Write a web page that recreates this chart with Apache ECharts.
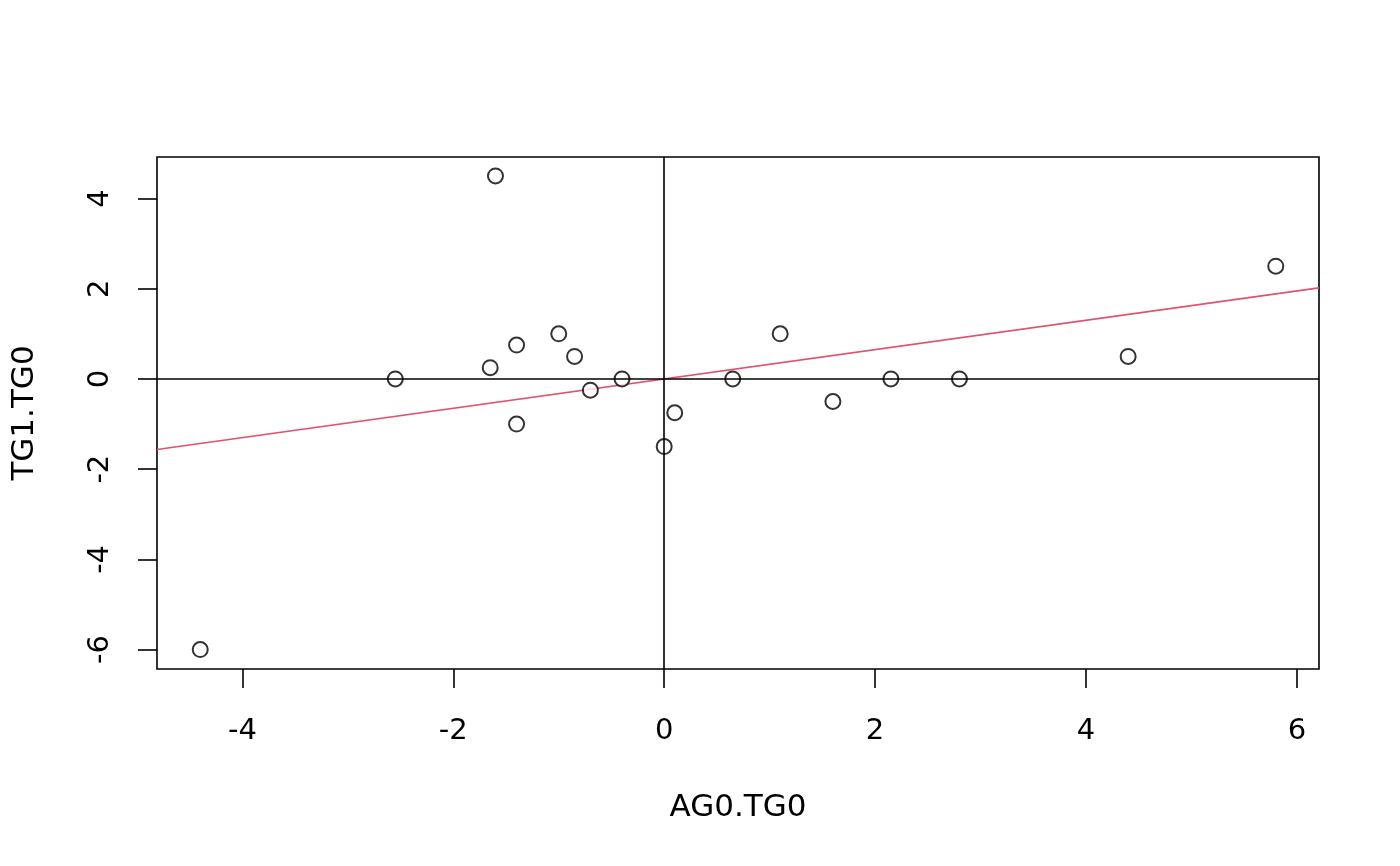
<!DOCTYPE html>
<html>
<head>
<meta charset="utf-8">
<script src="https://cdn.jsdelivr.net/npm/echarts@6/dist/echarts.min.js"></script>
<style>
html,body{margin:0;padding:0;background:#fff;}
#chart{width:1400px;height:866px;}
</style>
</head>
<body>
<div id="chart"></div>
<script>
const xValues = [-4.4, -2.55, -1.65, -1.6, -1.4, -1.4, -1.0, -0.85, -0.7, -0.4, 0.0, 0.1, 0.65, 1.1, 1.6, 2.15, 2.8, 4.4, 5.8];
const yValues = [-6.0, 0.0, 0.25, 4.5, 0.75, -1.0, 1.0, 0.5, -0.25, 0.0, -1.5, -0.75, 0.0, 1.0, -0.5, 0.0, 0.0, 0.5, 2.5];
const xTicks = [-4, -2, 0, 2, 4, 6];
const yTicks = [-6, -4, -2, 0, 2, 4];
const xLabel = 'AG0.TG0';
const yLabel = 'TG1.TG0';
const xRange = [-4.81, 6.21];
const yRange = [-6.43, 4.92];

// regression through origin
let sxy = 0, sxx = 0;
for (let i = 0; i < xValues.length; i++) { sxy += xValues[i] * yValues[i]; sxx += xValues[i] * xValues[i]; }
const slope = sxy / sxx;
const points = xValues.map((x, i) => [x, yValues[i]]);
const fitLine = xRange.map(x => [x, slope * x]);

const font = 'DejaVu Sans';
const chart = echarts.init(document.getElementById('chart'), null, {renderer: 'canvas'});
chart.setOption({
  animation: false,
  backgroundColor: '#fff',
  grid: {left: 157, right: 81, top: 157, bottom: 197, show: true, borderColor: '#000', borderWidth: 1.6, backgroundColor: 'transparent'},
  xAxis: {
    type: 'value', min: xRange[0], max: xRange[1],
    name: xLabel, nameLocation: 'middle', nameGap: 123,
    nameTextStyle: {fontFamily: font, fontSize: 31, color: '#000'},
    axisLine: {show: false, onZero: false},
    axisTick: {show: true, inside: false, length: 19, customValues: xTicks, lineStyle: {color: '#000', width: 1.6}},
    axisLabel: {customValues: xTicks, margin: 48, fontFamily: font, fontSize: 29, color: '#000'},
    splitLine: {show: false}
  },
  yAxis: {
    type: 'value', min: yRange[0], max: yRange[1],
    name: yLabel, nameLocation: 'middle', nameGap: 117,
    nameTextStyle: {fontFamily: font, fontSize: 31, color: '#000'},
    axisLine: {show: false, onZero: false},
    axisTick: {show: true, inside: false, length: 19, customValues: yTicks, lineStyle: {color: '#000', width: 1.6}},
    axisLabel: {customValues: yTicks, rotate: 90, margin: 42, fontFamily: font, fontSize: 29, color: '#000'},
    splitLine: {show: false}
  },
  series: [
    {
      type: 'line', data: fitLine, showSymbol: false, symbol: 'none',
      lineStyle: {color: '#DF536B', width: 1.6}, silent: true, z: 2,
      markLine: {
        silent: true, symbol: ['none', 'none'], label: {show: false},
        lineStyle: {color: '#000', type: 'solid', width: 1.6},
        data: [{xAxis: 0}, {yAxis: 0}]
      }
    },
    {
      type: 'scatter', data: points, symbol: 'emptyCircle', symbolSize: 15,
      itemStyle: {color: '#000', borderColor: '#000', borderWidth: 1.8}, z: 3
    }
  ]
});
</script>
</body>
</html>
